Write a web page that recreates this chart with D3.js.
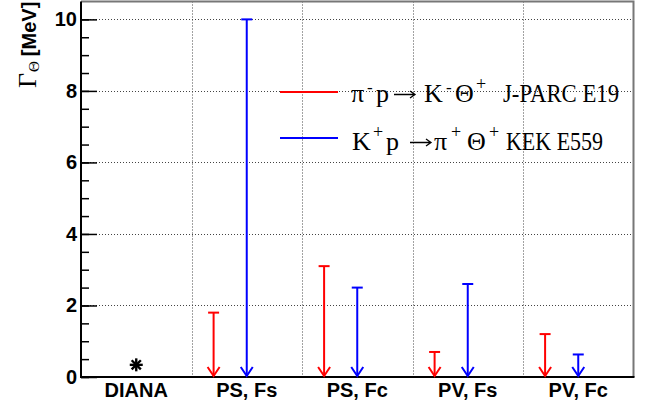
<!DOCTYPE html>
<html>
<head>
<meta charset="utf-8">
<script src="https://cdn.jsdelivr.net/npm/d3@7"></script>
<style>
  html, body { margin: 0; padding: 0; background: #fff; }
  svg { display: block; }
</style>
</head>
<body>
<svg id="chart" width="646" height="409"></svg>
<script>
// Coupling schemes (x categories)
const categories = ["DIANA", "PS, Fs", "PS, Fc", "PV, Fs", "PV, Fc"];
// DIANA measured width of the Theta+ [MeV]
const dianaWidth = [{ cat: "DIANA", value: 0.34 }];
// Upper limits on the width [MeV], pi- p -> K- Theta+ (J-PARC E19)
const e19Limits = [
  { cat: "PS, Fs", value: 1.8 },
  { cat: "PS, Fc", value: 3.1 },
  { cat: "PV, Fs", value: 0.7 },
  { cat: "PV, Fc", value: 1.2 }
];
// Upper limits on the width [MeV], K+ p -> pi+ Theta+ (KEK E559)
const e559Limits = [
  { cat: "PS, Fs", value: 10 },
  { cat: "PS, Fc", value: 2.5 },
  { cat: "PV, Fs", value: 2.6 },
  { cat: "PV, Fc", value: 0.63 }
];
const yMajorTicks = [0, 2, 4, 6, 8, 10];
const yMinorTicks = d3.range(0, 10.5, 0.5);

const svg = d3.select("#chart");
const plotL = 81, plotR = 633.5, plotT = 1.5, plotB = 377;

const x = d3.scaleBand().domain(categories).range([plotL, plotR]).padding(0);
const y = d3.scaleLinear().domain([0, 10.5]).range([plotB, plotT]);

const RED = "#ff0000", BLUE = "#0000ff";
const sans = "Liberation Sans, Arial, Helvetica, sans-serif";
const serif = "Liberation Serif, Times New Roman, serif";

// Grid
const grid = svg.append("g").attr("stroke", "#444").attr("stroke-width", 1)
  .attr("stroke-dasharray", "1,2").attr("fill", "none");
grid.selectAll("line.h").data(yMajorTicks.filter(d => d > 0)).join("line")
  .attr("class", "h")
  .attr("x1", plotL).attr("x2", plotR)
  .attr("y1", d => Math.round(y(d)) + 0.5).attr("y2", d => Math.round(y(d)) + 0.5);
grid.selectAll("line.v").data(categories.slice(1)).join("line")
  .attr("class", "v")
  .attr("x1", d => Math.round(x(d)) + 0.5).attr("x2", d => Math.round(x(d)) + 0.5)
  .attr("y1", plotT).attr("y2", plotB);

// Frame (top and right)
svg.append("path")
  .attr("d", `M${plotL},${plotT}H${plotR}V${plotB}`)
  .attr("fill", "none").attr("stroke", "#777").attr("stroke-width", 2);

// Y axis: minor ticks
const yMinor = d3.axisLeft(y).tickValues(yMinorTicks).tickSize(-8).tickFormat("");
svg.append("g").attr("transform", `translate(${plotL},0)`).call(yMinor)
  .call(g => g.select(".domain").remove())
  .call(g => g.selectAll(".tick line").attr("stroke", "#000").attr("stroke-width", 1.5));

// Y axis: major ticks with labels
const yMajor = d3.axisLeft(y).tickValues(yMajorTicks).tickSize(-16).tickPadding(4)
  .tickFormat(d3.format("d"));
svg.append("g").attr("transform", `translate(${plotL},0)`).call(yMajor)
  .call(g => g.select(".domain").remove())
  .call(g => g.selectAll(".tick line").attr("stroke", "#000").attr("stroke-width", 1.5))
  .call(g => g.selectAll(".tick text")
    .attr("font-family", sans).attr("font-weight", "bold").attr("font-size", 20).attr("fill", "#000"));

// Left axis line
svg.append("line").attr("x1", plotL).attr("x2", plotL).attr("y1", plotT).attr("y2", plotB + 1)
  .attr("stroke", "#000").attr("stroke-width", 2);

// X axis with category labels
const xAxis = d3.axisBottom(x).tickSize(0).tickPadding(6);
svg.append("g").attr("transform", `translate(0,${plotB})`).call(xAxis)
  .call(g => g.select(".domain").remove())
  .call(g => g.selectAll(".tick text")
    .attr("font-family", sans).attr("font-weight", "bold").attr("font-size", 20).attr("fill", "#000"));
svg.append("line").attr("x1", plotL - 1).attr("x2", plotR + 1).attr("y1", plotB).attr("y2", plotB)
  .attr("stroke", "#000").attr("stroke-width", 2);

// Y axis title: Γ_Θ [MeV]
const yTitle = svg.append("text")
  .attr("transform", `translate(36,88) rotate(-90)`)
  .attr("text-anchor", "start").attr("fill", "#000");
yTitle.append("tspan").attr("font-family", serif).attr("font-size", 26).text("Γ");
yTitle.append("tspan").attr("font-family", serif).attr("font-size", 15)
  .attr("dy", 3).attr("dx", 1).text("Θ");
yTitle.append("tspan").attr("font-family", sans).attr("font-weight", "bold").attr("font-size", 20)
  .attr("dy", -3).attr("dx", 5).text("[MeV]");

// Upper-limit arrows: cap at the limit, arrowhead at zero
function drawLimits(data, color, offset) {
  const g = svg.append("g").attr("stroke", color).attr("stroke-width", 2).attr("fill", "none");
  const cx = d => x(d.cat) + x.bandwidth() / 2 + offset;
  g.selectAll("line.stem").data(data).join("line").attr("class", "stem")
    .attr("x1", cx).attr("x2", cx)
    .attr("y1", d => y(d.value)).attr("y2", y(0) - 1);
  g.selectAll("line.cap").data(data).join("line").attr("class", "cap")
    .attr("x1", d => cx(d) - 5.5).attr("x2", d => cx(d) + 5.5)
    .attr("y1", d => y(d.value)).attr("y2", d => y(d.value));
  g.selectAll("path.head").data(data).join("path").attr("class", "head")
    .attr("d", d => `M${cx(d) - 6},${y(0) - 10}L${cx(d)},${y(0) - 1}L${cx(d) + 6},${y(0) - 10}`);
}
drawLimits(e19Limits, RED, -0.3 * x.bandwidth());
drawLimits(e559Limits, BLUE, 0);

// DIANA point as an asterisk marker
const star = svg.append("g").attr("stroke", "#000").attr("stroke-width", 2.4);
dianaWidth.forEach(d => {
  const cx = x(d.cat) + x.bandwidth() / 2, cy = y(d.value), r = 6.5, q = 4.6;
  star.append("line").attr("x1", cx - r).attr("x2", cx + r).attr("y1", cy).attr("y2", cy);
  star.append("line").attr("x1", cx).attr("x2", cx).attr("y1", cy - r).attr("y2", cy + r);
  star.append("line").attr("x1", cx - q).attr("x2", cx + q).attr("y1", cy - q).attr("y2", cy + q);
  star.append("line").attr("x1", cx - q).attr("x2", cx + q).attr("y1", cy + q).attr("y2", cy - q);
});

// Legend
const legend = svg.append("g").attr("fill", "#000").attr("font-family", serif);
function tok(txt, px, py, size, opts = {}) {
  const t = legend.append("text").attr("x", px).attr("y", py).attr("font-size", size).text(txt);
  if (opts.len) t.attr("textLength", opts.len).attr("lengthAdjust", "spacingAndGlyphs");
  if (opts.family) t.attr("font-family", opts.family);
  return t;
}
// Reaction arrow drawn as a thin line with an open head
function arrow(x0, x1, yy) {
  legend.append("path")
    .attr("d", `M${x0},${yy}H${x1}M${x1 - 5},${yy - 3.5}L${x1},${yy}L${x1 - 5},${yy + 3.5}`)
    .attr("fill", "none").attr("stroke", "#000").attr("stroke-width", 1.3);
}
legend.append("line").attr("x1", 280).attr("x2", 338).attr("y1", 92).attr("y2", 92)
  .attr("stroke", RED).attr("stroke-width", 2);
legend.append("line").attr("x1", 280).attr("x2", 338).attr("y1", 138).attr("y2", 138)
  .attr("stroke", BLUE).attr("stroke-width", 2);

// π⁻ p → K⁻ Θ⁺   J-PARC E19
const b1 = 101.5;
tok("π", 351, b1, 26);
tok("-", 367, b1 - 9, 17);
tok("p", 376, b1, 26);
arrow(394, 415, b1 - 7);
tok("K", 424, b1, 26);
tok("-", 446, b1 - 9, 17);
tok("Θ", 455, b1, 26);
tok("+", 476, b1 - 12, 18);
tok("J-PARC E19", 503, b1, 25, { len: 116 });

// K⁺ p → π⁺ Θ⁺ KEK E559
const b2 = 149.5;
tok("K", 352, b2, 26);
tok("+", 373, b2 - 12, 18);
tok("p", 386, b2, 26);
arrow(410, 431, b2 - 7);
tok("π", 434, b2, 26);
tok("+", 451, b2 - 12, 18);
tok("Θ", 467, b2, 26);
tok("+", 489, b2 - 12, 18);
tok("KEK E559", 506, b2, 25, { len: 97 });
</script>
</body>
</html>
